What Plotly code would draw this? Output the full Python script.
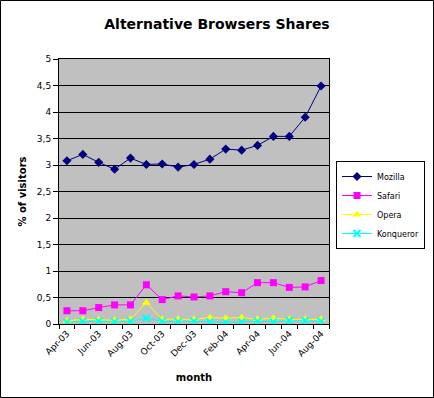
import plotly.graph_objects as go

months = ["Apr-03", "May-03", "Jun-03", "Jul-03", "Aug-03", "Sep-03", "Oct-03", "Nov-03",
          "Dec-03", "Jan-04", "Feb-04", "Mar-04", "Apr-04", "May-04", "Jun-04", "Jul-04", "Aug-04"]
mozilla = [3.08, 3.20, 3.05, 2.92, 3.13, 3.01, 3.02, 2.96, 3.01, 3.11, 3.30, 3.28, 3.37, 3.54, 3.54, 3.90, 4.49]
safari = [0.25, 0.25, 0.31, 0.36, 0.36, 0.74, 0.46, 0.53, 0.51, 0.53, 0.61, 0.59, 0.78, 0.78, 0.69, 0.70, 0.82]
opera = [0.06, 0.09, 0.08, 0.07, 0.09, 0.40, 0.09, 0.09, 0.09, 0.12, 0.11, 0.12, 0.09, 0.11, 0.09, 0.09, 0.09]
konqueror = [0.03, 0.05, 0.05, 0.04, 0.05, 0.11, 0.05, 0.04, 0.05, 0.04, 0.03, 0.04, 0.05, 0.04, 0.06, 0.06, 0.05]

x = list(range(len(months)))
label_idx = x[::2]

series = [
    ("Mozilla", mozilla, "#000080", "diamond", 7),
    ("Safari", safari, "#FF00FF", "square", 7),
    ("Opera", opera, "#FFFF00", "triangle-up", 8),
    ("Konqueror", konqueror, "#00FFFF", "x-thin-open", 7),
]

fig = go.Figure()
for name, vals, color, sym, size in series:
    marker = dict(symbol=sym, size=size, color=color)
    if sym == "x-thin-open":
        marker["line"] = dict(color=color, width=2)
    fig.add_trace(go.Scatter(x=x, y=vals, name=name, mode="lines+markers",
                             line=dict(color=color, width=1), marker=marker))

L, R, T, B = 59, 329, 59, 324
W, H = 434, 398
pw, ph = R - L, B - T

fig.add_shape(type="rect", xref="paper", yref="paper",
              x0=(0.5 - L) / pw, x1=(W - 0.5 - L) / pw,
              y0=(B - (H - 0.5)) / ph, y1=(B - 0.5) / ph,
              line=dict(color="black", width=1), layer="below")

fig.update_layout(
    template="none",
    width=W, height=H,
    margin=dict(l=L, r=W - R, t=T, b=H - B, autoexpand=False),
    paper_bgcolor="white",
    plot_bgcolor="#C0C0C0",
    separators=",.",
    font=dict(family="DejaVu Sans", size=9, color="black"),
    title=dict(text="<b>Alternative Browsers Shares</b>", x=0.5, xref="container",
               y=1 - 24 / H, yanchor="middle", font=dict(size=14)),
    xaxis=dict(
        automargin=False,
        range=[-0.5, len(months) - 0.5],
        tickmode="array", tickvals=label_idx, ticktext=[months[i] for i in label_idx],
        tickangle=-45, ticks="", showgrid=False, zeroline=False,
        showline=True, linecolor="black", linewidth=1, mirror=True,
        minor=dict(tickmode="array", tickvals=[i - 0.5 for i in range(len(months) + 1)],
                   ticks="outside", ticklen=4, tickcolor="black", showgrid=False),
        title=dict(text="<b>month</b>", font=dict(size=10), standoff=16),
        tickfont=dict(size=9),
    ),
    yaxis=dict(
        automargin=False,
        range=[0, 5], dtick=0.5, tick0=0,
        ticks="outside", ticklen=5, tickcolor="black",
        showgrid=True, gridcolor="black", gridwidth=1, zeroline=False,
        showline=True, linecolor="black", linewidth=1, mirror=True,
        title=dict(text="<b>% of visitors</b>", font=dict(size=10), standoff=8),
        tickfont=dict(size=9),
    ),
    legend=dict(
        xref="container", yref="container",
        x=336 / W, xanchor="left",
        y=1 - 161 / H, yanchor="top",
        bordercolor="black", borderwidth=1, bgcolor="white",
        font=dict(size=8), itemwidth=30, tracegroupgap=0,
    ),
    showlegend=True,
)

fig.write_html("out.html", config={"displayModeBar": False},
               post_script="document.body.style.margin='0';")
